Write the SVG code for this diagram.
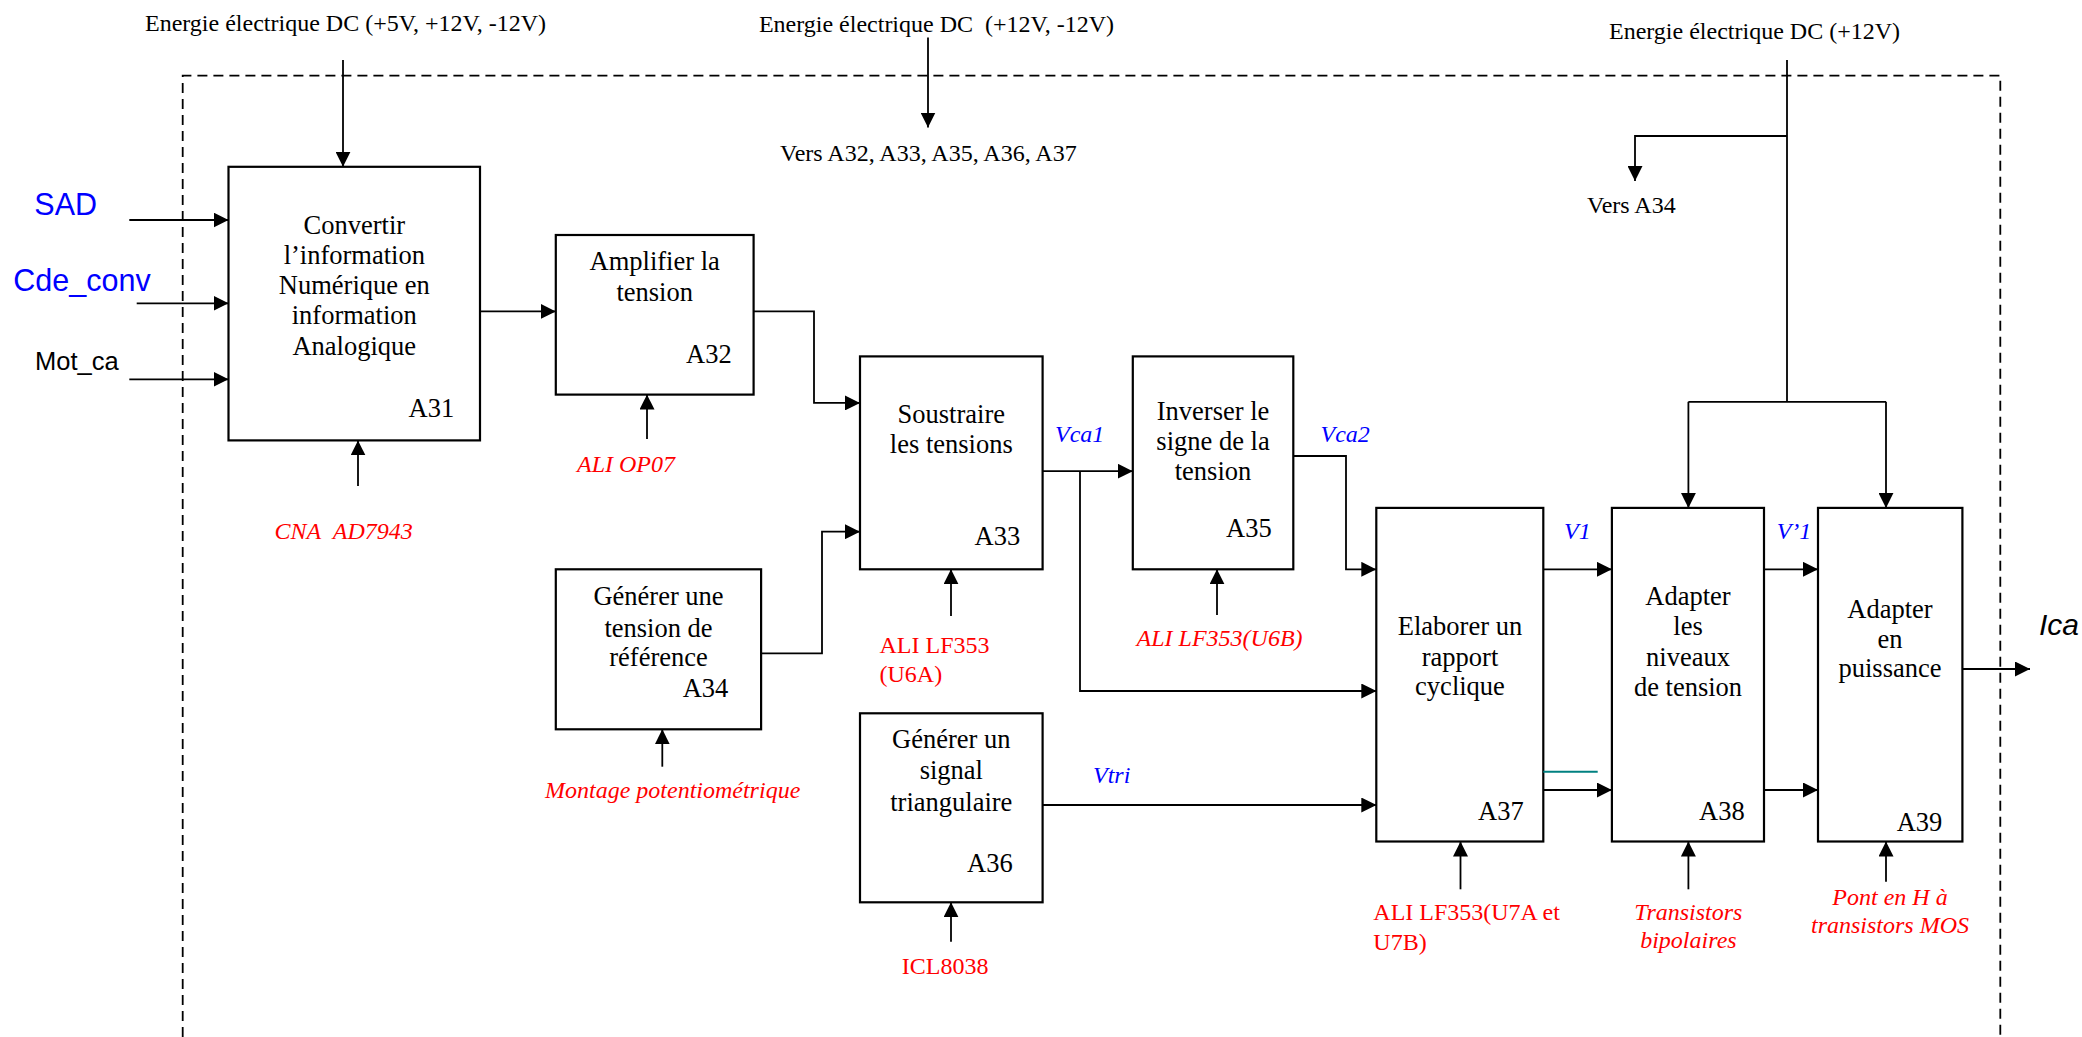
<svg xmlns="http://www.w3.org/2000/svg" width="2082" height="1037" viewBox="0 0 2082 1037">
  <style>
    .box { fill: #fff; stroke: #000; stroke-width: 2.2; }
    .wire { fill: none; stroke: #000; stroke-width: 1.8; }
    .arr { marker-end: url(#head); }
    .frame { fill: none; stroke: #000; stroke-width: 1.8; stroke-dasharray: 10 6; }
    .t { font-family: "Liberation Serif", "Times New Roman", serif; font-size: 26.5px; fill: #000; }
    .c { text-anchor: middle; }
    .s { font-family: "Liberation Serif", "Times New Roman", serif; font-size: 24px; fill: #000; }
    .red { font-family: "Liberation Serif", "Times New Roman", serif; font-size: 24px; fill: #ff0000; }
    .blue { font-family: "Liberation Serif", "Times New Roman", serif; font-size: 24px; fill: #0000ff; font-style: italic; }
    .it { font-style: italic; }
    .sans { font-family: "Liberation Sans", Arial, sans-serif; }
  </style>
  <defs>
    <marker id="head" viewBox="0 0 15 15" markerWidth="15" markerHeight="15" refX="15" refY="7.5" orient="auto" markerUnits="userSpaceOnUse">
      <path d="M0,0 L15,7.5 L0,15 Z" fill="#000"/>
    </marker>
  </defs>
  <rect width="2082" height="1037" fill="#fff"/>

  <!-- system boundary -->
  <path class="frame" d="M182.7,1037 V75.7 H2000.3 V1037"/>

  <!-- power supply labels -->
  <text class="s c" x="345.5" y="31.4">Energie électrique DC (+5V, +12V, -12V)</text>
  <text class="s c" x="936.5" y="32">Energie électrique DC &#160;(+12V, -12V)</text>
  <text class="s" x="780" y="161.4">Vers A32, A33, A35, A36, A37</text>
  <text class="s c" x="1754.5" y="38.6">Energie électrique DC (+12V)</text>
  <text class="s" x="1587" y="213">Vers A34</text>

  <!-- external inputs / output -->
  <text class="sans" x="34.3" y="215" font-size="30.5" fill="#0000ff">SAD</text>
  <text class="sans" x="13.3" y="290.7" font-size="30.5" fill="#0000ff">Cde_conv</text>
  <text class="sans" x="35" y="370" font-size="25.5" fill="#000">Mot_ca</text>
  <text class="sans" x="2039" y="635" font-size="30" font-style="italic" fill="#000">Ica</text>

  <!-- blocks -->
  <g id="A31">
    <rect class="box" x="228.5" y="166.8" width="251.5" height="273.6"/>
    <text class="t c" x="354.3" y="234">Convertir</text>
    <text class="t c" x="354.3" y="264">l’information</text>
    <text class="t c" x="354.3" y="294">Numérique en</text>
    <text class="t c" x="354.3" y="324">information</text>
    <text class="t c" x="354.3" y="354.5">Analogique</text>
    <text class="t" x="408.5" y="417">A31</text>
  </g>
  <g id="A32">
    <rect class="box" x="555.8" y="235" width="197.8" height="159.6"/>
    <text class="t c" x="654.7" y="270">Amplifier la</text>
    <text class="t c" x="654.7" y="300.5">tension</text>
    <text class="t" x="686" y="363">A32</text>
  </g>
  <g id="A33">
    <rect class="box" x="860" y="356.4" width="182.6" height="212.9"/>
    <text class="t c" x="951.3" y="423">Soustraire</text>
    <text class="t c" x="951.3" y="453">les tensions</text>
    <text class="t" x="974.5" y="545">A33</text>
  </g>
  <g id="A34">
    <rect class="box" x="555.8" y="569.3" width="205.3" height="160"/>
    <text class="t c" x="658.5" y="605">Générer une</text>
    <text class="t c" x="658.5" y="636.5">tension de</text>
    <text class="t c" x="658.5" y="666">référence</text>
    <text class="t" x="682.7" y="697.3">A34</text>
  </g>
  <g id="A35">
    <rect class="box" x="1132.8" y="356.4" width="160.5" height="212.9"/>
    <text class="t c" x="1213" y="419.6">Inverser le</text>
    <text class="t c" x="1213" y="449.5">signe de la</text>
    <text class="t c" x="1213" y="480">tension</text>
    <text class="t" x="1226" y="536.7">A35</text>
  </g>
  <g id="A36">
    <rect class="box" x="860" y="713.3" width="182.6" height="189"/>
    <text class="t c" x="951.3" y="748.3">Générer un</text>
    <text class="t c" x="951.3" y="779.3">signal</text>
    <text class="t c" x="951.3" y="810.5">triangulaire</text>
    <text class="t" x="967" y="871.7">A36</text>
  </g>
  <g id="A37">
    <rect class="box" x="1376.3" y="507.9" width="167" height="333.6"/>
    <text class="t c" x="1460" y="635">Elaborer un</text>
    <text class="t c" x="1460" y="666">rapport</text>
    <text class="t c" x="1460" y="695">cyclique</text>
    <text class="t" x="1478" y="820">A37</text>
  </g>
  <g id="A38">
    <rect class="box" x="1611.9" y="507.9" width="152.1" height="333.6"/>
    <text class="t c" x="1688" y="605">Adapter</text>
    <text class="t c" x="1688" y="635">les</text>
    <text class="t c" x="1688" y="666">niveaux</text>
    <text class="t c" x="1688" y="696">de tension</text>
    <text class="t" x="1699" y="820">A38</text>
  </g>
  <g id="A39">
    <rect class="box" x="1818" y="507.9" width="144.4" height="333.6"/>
    <text class="t c" x="1890" y="617.7">Adapter</text>
    <text class="t c" x="1890" y="647.7">en</text>
    <text class="t c" x="1890" y="677">puissance</text>
    <text class="t" x="1896.7" y="831">A39</text>
  </g>

  <!-- component references -->
  <g id="components">
    <text class="red it" x="274.5" y="539">CNA&#160; AD7943</text>
    <text class="red it" x="577" y="472">ALI OP07</text>
    <text class="red it" x="545" y="798">Montage potentiométrique</text>
    <text class="red" x="879.5" y="653.3">ALI LF353</text>
    <text class="red" x="879.5" y="681.7">(U6A)</text>
    <text class="red it" x="1136.6" y="646">ALI LF353(U6B)</text>
    <text class="red" x="901.8" y="974">ICL8038</text>
    <text class="red" x="1373.3" y="920">ALI LF353(U7A et</text>
    <text class="red" x="1373.3" y="950">U7B)</text>
    <text class="red it c" x="1688.4" y="919.5">Transistors</text>
    <text class="red it c" x="1688.4" y="948">bipolaires</text>
    <text class="red it c" x="1890" y="905">Pont en H à</text>
    <text class="red it c" x="1890" y="932.7">transistors MOS</text>
  </g>

  <!-- signal names -->
  <g id="signals">
    <text class="blue" x="1055" y="441.7">Vca1</text>
    <text class="blue" x="1320.5" y="442">Vca2</text>
    <text class="blue" x="1564" y="539">V1</text>
    <text class="blue" x="1776.7" y="539">V’1</text>
    <text class="blue" x="1093" y="783.3">Vtri</text>
  </g>

  <!-- connectors -->
  <g id="connectors">
    <path class="wire arr" d="M343,60 V166.8"/>
    <path class="wire arr" d="M129.3,220 H228.5"/>
    <path class="wire arr" d="M136.7,303.3 H228.5"/>
    <path class="wire arr" d="M129.3,379.3 H228.5"/>
    <path class="wire arr" d="M480,311.4 H555.8"/>
    <path class="wire arr" d="M358,486 V440.4"/>
    <path class="wire arr" d="M647,439 V394.6"/>
    <path class="wire arr" d="M928,37.5 V127.5"/>
    <path class="wire arr" d="M753.6,311.4 H814 V402.9 H860"/>
    <path class="wire arr" d="M761.1,653.3 H822 V531.7 H860"/>
    <path class="wire arr" d="M662.3,766.7 V729.3"/>
    <path class="wire arr" d="M1042.6,471.2 H1132.8"/>
    <path class="wire arr" d="M1080,471.2 V691 H1376.3"/>
    <path class="wire arr" d="M951,616 V569.3"/>
    <path class="wire arr" d="M1217,615 V569.3"/>
    <path class="wire arr" d="M1293.3,456 H1346 V569.3 H1376.3"/>
    <path class="wire arr" d="M1042.6,805 H1376.3"/>
    <path class="wire arr" d="M951,941.7 V902.3"/>
    <path class="wire" d="M1787,60 V401.8 M1688.4,401.8 H1886"/>
    <path class="wire arr" d="M1787,136 H1635 V181"/>
    <path class="wire arr" d="M1688.4,401.8 V507.9"/>
    <path class="wire arr" d="M1886,401.8 V507.9"/>
    <path class="wire arr" d="M1543.3,569.3 H1611.9"/>
    <path class="wire arr" d="M1764,569.3 H1818"/>
    <path class="wire arr" d="M1543.3,790 H1611.9"/>
    <path class="wire arr" d="M1764,790 H1818"/>
    <path fill="none" stroke="#008080" stroke-width="2" d="M1543.3,771.7 H1597.7"/>
    <path class="wire arr" d="M1962.4,669 H2030"/>
    <path class="wire arr" d="M1460.5,889.3 V841.5"/>
    <path class="wire arr" d="M1688.4,889.3 V841.5"/>
    <path class="wire arr" d="M1886,881.7 V841.5"/>
  </g>
</svg>
